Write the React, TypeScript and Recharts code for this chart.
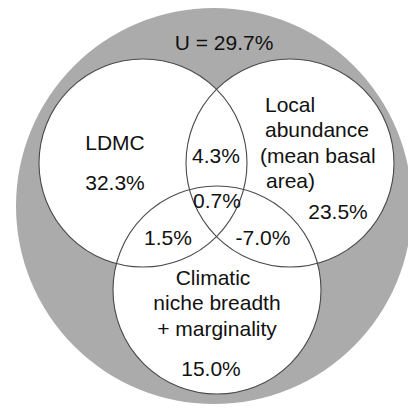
import React from 'react';
import { ScatterChart, Scatter, XAxis, YAxis } from 'recharts';

// ---- Data (variance partitioning, %) ----
const setNames = ['LDMC', 'Local abundance (mean basal area)', 'Climatic niche breadth + marginality'];
const uniqueFractions = [32.3, 23.5, 15.0];
const pairNames = ['LDMC ∩ Local abundance', 'LDMC ∩ Climatic', 'Local abundance ∩ Climatic'];
const pairFractions = [4.3, 1.5, -7.0];
const sharedAllFraction = 0.7;
const unexplainedFraction = 29.7;

// ---- Layout (chart units, axes are 1:1 with pixels) ----
const W = 408;
const H = 410;
const outerCircle = { x: 214, y: 206, r: 198 };
const setCircles = [
  { x: 143, y: 163, r: 104 },
  { x: 290, y: 163, r: 104 },
  { x: 217, y: 290, r: 104 },
];
const setNameLines = [
  [{ text: 'LDMC', x: 115, y: 142, anchor: 'middle' }],
  [
    { text: 'Local', x: 265, y: 104, anchor: 'start' },
    { text: 'abundance', x: 265, y: 129, anchor: 'start' },
    { text: '(mean basal', x: 260, y: 155, anchor: 'start' },
    { text: 'area)', x: 266, y: 180, anchor: 'start' },
  ],
  [
    { text: 'Climatic', x: 213, y: 277, anchor: 'middle' },
    { text: 'niche breadth', x: 217, y: 302, anchor: 'middle' },
    { text: '+ marginality', x: 217, y: 328, anchor: 'middle' },
  ],
];
const uniquePos = [
  { x: 115, y: 182 },
  { x: 338, y: 211 },
  { x: 211, y: 368 },
];
const pairPos = [
  { x: 216, y: 155 },
  { x: 168, y: 237 },
  { x: 263, y: 237 },
];
const sharedPos = { x: 217, y: 200 };
const unexplainedPos = { x: 224, y: 42 };

const FONT = '"Liberation Sans", Arial, sans-serif';
const FONT_SIZE = 21;
const fmt = (v: number) => `${v.toFixed(1)}%`;

const outerData = [{ ...outerCircle, fill: '#ababab' }];
const circleData = setCircles.map((c, i) => ({ ...c, name: setNames[i] }));

const labelData: { x: number; y: number; text: string; anchor: string }[] = [];
labelData.push({ ...unexplainedPos, text: `U = ${fmt(unexplainedFraction)}`, anchor: 'middle' });
setNameLines.forEach((lines) => lines.forEach((l) => labelData.push({ ...l })));
uniqueFractions.forEach((v, i) => labelData.push({ ...uniquePos[i], text: fmt(v), anchor: 'middle' }));
pairFractions.forEach((v, i) => labelData.push({ ...pairPos[i], text: fmt(v), anchor: 'middle' }));
labelData.push({ ...sharedPos, text: fmt(sharedAllFraction), anchor: 'middle' });

const FilledCircle = (props: any) => {
  const { cx, cy, payload } = props;
  return <circle cx={cx} cy={cy} r={payload.r} fill={payload.fill} stroke="none" />;
};
const WhiteCircle = (props: any) => {
  const { cx, cy, payload } = props;
  return <circle cx={cx} cy={cy} r={payload.r} fill="#ffffff" stroke="none" />;
};
const OutlineCircle = (props: any) => {
  const { cx, cy, payload } = props;
  return <circle cx={cx} cy={cy} r={payload.r} fill="none" stroke="#4a4a4a" strokeWidth={1.1} />;
};
const Label = (props: any) => {
  const { cx, cy, payload } = props;
  return (
    <text
      x={cx}
      y={cy}
      dy="0.36em"
      textAnchor={payload.anchor}
      fontFamily={FONT}
      fontSize={FONT_SIZE}
      fill="#111111"
    >
      {payload.text}
    </text>
  );
};

export default function App() {
  return (
    <div style={{ position: 'absolute', left: 0, top: 0, width: W, height: H, background: '#ffffff' }}>
      <ScatterChart width={W} height={H} margin={{ top: 0, right: 0, bottom: 0, left: 0 }}>
        <XAxis type="number" dataKey="x" domain={[0, W]} hide />
        <YAxis type="number" dataKey="y" domain={[0, H]} reversed hide />
        <Scatter data={outerData} shape={FilledCircle} isAnimationActive={false} />
        <Scatter data={circleData} shape={WhiteCircle} isAnimationActive={false} />
        <Scatter data={circleData} shape={OutlineCircle} isAnimationActive={false} />
        <Scatter data={labelData} shape={Label} isAnimationActive={false} />
      </ScatterChart>
    </div>
  );
}
